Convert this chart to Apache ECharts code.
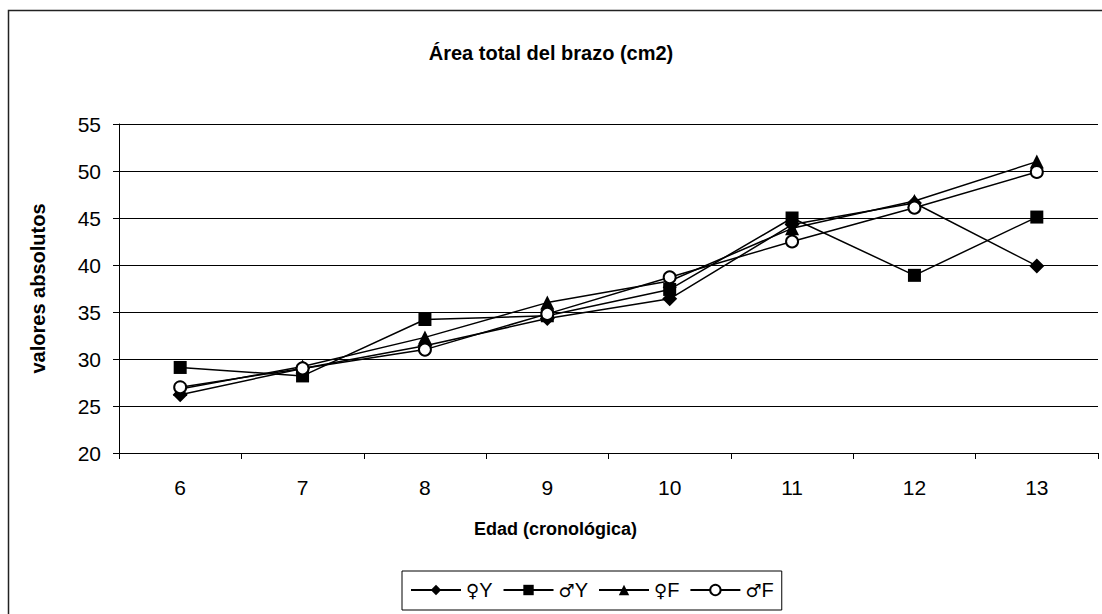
<!DOCTYPE html>
<html>
<head>
<meta charset="utf-8">
<script src="https://cdn.jsdelivr.net/npm/echarts@6/dist/echarts.min.js"></script>
<style>
html,body{margin:0;padding:0;background:#fff;}
#chart{width:1102px;height:614px;}
</style>
</head>
<body>
<div id="chart"></div>
<script>
var titleText = 'Área total del brazo (cm2)';
var xAxisName = 'Edad (cronológica)';
var yAxisName = 'valores absolutos';
var categories = ['6', '7', '8', '9', '10', '11', '12', '13'];
var seriesNames = ['\u2640Y', '\u2642Y', '\u2640F', '\u2642F'];
var femY = [26.2, 29.0, 31.4, 34.3, 36.4, 44.3, 46.6, 39.9];
var maleY = [29.1, 28.2, 34.2, 34.6, 37.4, 45.0, 38.9, 45.1];
var femF = [26.8, 29.2, 32.3, 36.0, 38.3, 43.9, 46.8, 51.0];
var maleF = [27.0, 29.0, 31.0, 34.8, 38.7, 42.5, 46.1, 49.9];
var yMin = 20, yMax = 55, yStep = 5;

var font = 'Arial, "Liberation Sans", Helvetica, sans-serif';
var chart = echarts.init(document.getElementById('chart'), null, {renderer: 'svg'});

function mkSeries(name, data, symbol, size) {
  return {
    name: name, type: 'line', data: data,
    symbol: symbol, symbolSize: size, showAllSymbol: true,
    lineStyle: {color: '#000', width: 1.5},
    itemStyle: {color: '#000', borderColor: '#000', borderWidth: symbol === 'emptyCircle' ? 1.2 : 0},
    emphasis: {disabled: true},
    animation: false
  };
}

chart.setOption({
  backgroundColor: '#fff',
  animation: false,
  title: {
    text: titleText, left: 'center', top: 38,
    textStyle: {fontFamily: font, fontSize: 20, fontWeight: 'bold', color: '#000'}
  },
  graphic: [{
    type: 'rect', silent: true,
    shape: {x: 8.5, y: 10.5, width: 1100, height: 620},
    style: {fill: 'none', stroke: '#222', lineWidth: 1.5}
  }],
  legend: {
    left: 402, top: 571,
    itemWidth: 50, itemHeight: 13, itemGap: 10,
    padding: [9, 8, 10, 8],
    borderColor: '#000', borderWidth: 1,
    textStyle: {fontFamily: font, fontSize: 20, color: '#000',
      rich: {
        s: {fontFamily: '"DejaVu Sans", sans-serif', fontSize: 18, color: '#000'},
        t: {fontFamily: font, fontSize: 20, color: '#000'}
      }
    },
    formatter: function (name) {
      return '{s|' + name.charAt(0) + '}{t|' + name.slice(1) + '}';
    },
    data: seriesNames
  },
  grid: {left: 119, right: 4, top: 124, bottom: 161, containLabel: false},
  xAxis: {
    type: 'category', data: categories, boundaryGap: true,
    name: xAxisName, nameLocation: 'middle', nameGap: 67,
    nameTextStyle: {fontFamily: font, fontSize: 18, fontWeight: 'bold', color: '#000', padding: [0, 106, 0, 0]},
    axisLine: {lineStyle: {color: '#000', width: 1}},
    axisTick: {show: true, length: 6, interval: 0, alignWithLabel: false, lineStyle: {color: '#000'}},
    axisLabel: {fontFamily: font, fontSize: 21, color: '#000', margin: 24, interval: 0},
    splitLine: {show: false}
  },
  yAxis: {
    type: 'value', min: yMin, max: yMax, interval: yStep,
    name: yAxisName, nameLocation: 'middle', nameGap: 71,
    nameTextStyle: {fontFamily: font, fontSize: 20, fontWeight: 'bold', color: '#000'},
    axisLine: {show: true, lineStyle: {color: '#000', width: 1}},
    axisTick: {show: true, length: 6, lineStyle: {color: '#000'}},
    axisLabel: {fontFamily: font, fontSize: 21, color: '#000', margin: 18},
    splitLine: {show: true, lineStyle: {color: '#000', width: 1}}
  },
  series: [
    mkSeries(seriesNames[0], femY, 'diamond', 15),
    mkSeries(seriesNames[1], maleY, 'rect', 13),
    mkSeries(seriesNames[2], femF, 'triangle', 14),
    mkSeries(seriesNames[3], maleF, 'emptyCircle', 12)
  ]
});
</script>
</body>
</html>
